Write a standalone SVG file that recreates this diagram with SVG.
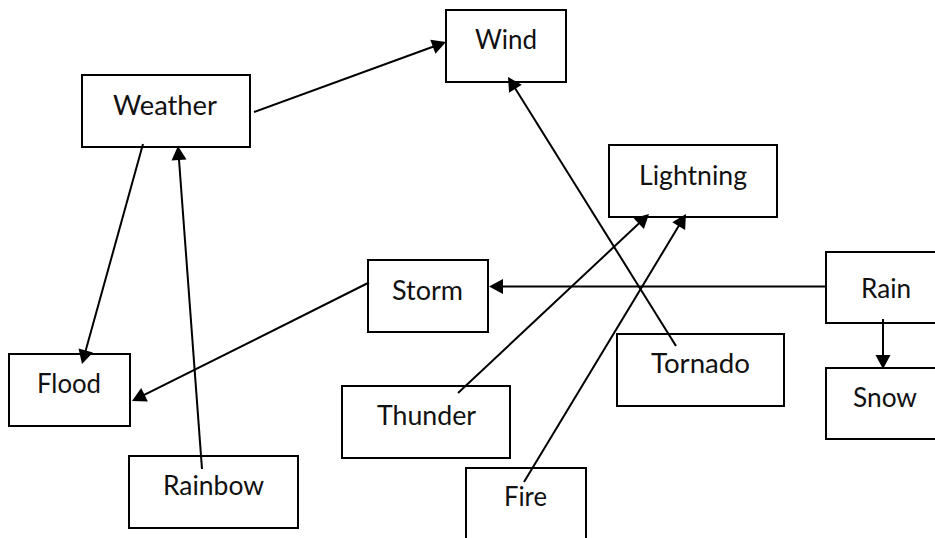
<svg xmlns="http://www.w3.org/2000/svg" width="935" height="538" viewBox="0 0 935 538">
  <defs>
    <marker id="arrow" markerUnits="userSpaceOnUse" markerWidth="16" markerHeight="16" refX="11" refY="7.5" orient="auto" overflow="visible">
      <path d="M0,0 L14,7.5 L0,15 z" fill="#000"/>
    </marker>
    <style>
      .box { fill: #fff; stroke: #000; stroke-width: 2; }
      .lbl { font-family: Lato, "Open Sans", "Liberation Sans", sans-serif; font-size: 26px; fill: #111; }
      .edge { fill: none; stroke: #000; stroke-width: 2; }
      .arr { marker-end: url(#arrow); }
    </style>
  </defs>
  <rect width="935" height="538" fill="#fff"/>

  <g id="weather"><rect class="box" x="82" y="75" width="168" height="72"/><text class="lbl" x="113" y="115" textLength="104" lengthAdjust="spacingAndGlyphs">Weather</text></g>
  <g id="wind"><rect class="box" x="446" y="10" width="120" height="72"/><text class="lbl" x="475" y="49" textLength="62" lengthAdjust="spacingAndGlyphs">Wind</text></g>
  <g id="lightning"><rect class="box" x="609" y="145" width="168" height="72"/><text class="lbl" x="639" y="185" textLength="108" lengthAdjust="spacingAndGlyphs">Lightning</text></g>
  <g id="storm"><rect class="box" x="368" y="260" width="120" height="72"/><text class="lbl" x="392" y="300" textLength="71" lengthAdjust="spacingAndGlyphs">Storm</text></g>
  <g id="rain"><rect class="box" x="826" y="252" width="120" height="71"/><text class="lbl" x="861" y="298" textLength="50" lengthAdjust="spacingAndGlyphs">Rain</text></g>
  <g id="snow"><rect class="box" x="826" y="368" width="120" height="71"/><text class="lbl" x="853" y="407" textLength="64" lengthAdjust="spacingAndGlyphs">Snow</text></g>
  <g id="tornado"><rect class="box" x="617" y="334" width="167" height="72"/><text class="lbl" x="651" y="373" textLength="99" lengthAdjust="spacingAndGlyphs">Tornado</text></g>
  <g id="thunder"><rect class="box" x="342" y="386" width="168" height="72"/><text class="lbl" x="377" y="425" textLength="99" lengthAdjust="spacingAndGlyphs">Thunder</text></g>
  <g id="fire"><rect class="box" x="466" y="468" width="120" height="72"/><text class="lbl" x="504" y="506" textLength="43" lengthAdjust="spacingAndGlyphs">Fire</text></g>
  <g id="flood"><rect class="box" x="9" y="354" width="121" height="72"/><text class="lbl" x="37" y="393" textLength="64" lengthAdjust="spacingAndGlyphs">Flood</text></g>
  <g id="rainbow"><rect class="box" x="129" y="456" width="169" height="72"/><text class="lbl" x="163" y="495" textLength="101" lengthAdjust="spacingAndGlyphs">Rainbow</text></g>

  <g id="connectors">
    <line class="edge arr" x1="254" y1="112" x2="443.2" y2="43"/>
    <line class="edge arr" x1="676" y1="346" x2="509.6" y2="79.5"/>
    <line class="edge arr" x1="143" y1="144" x2="82.8" y2="361.1"/>
    <line class="edge arr" x1="202" y1="469" x2="178.2" y2="149"/>
    <line class="edge arr" x1="369" y1="282.5" x2="134.7" y2="399.7"/>
    <line class="edge arr" x1="826" y1="286.5" x2="492" y2="286.5"/>
    <line class="edge arr" x1="883" y1="319" x2="883" y2="366"/>
    <line class="edge arr" x1="458" y1="393" x2="646.8" y2="216.1"/>
    <line class="edge arr" x1="524" y1="482" x2="684.4" y2="216.6"/>
  </g>
</svg>
